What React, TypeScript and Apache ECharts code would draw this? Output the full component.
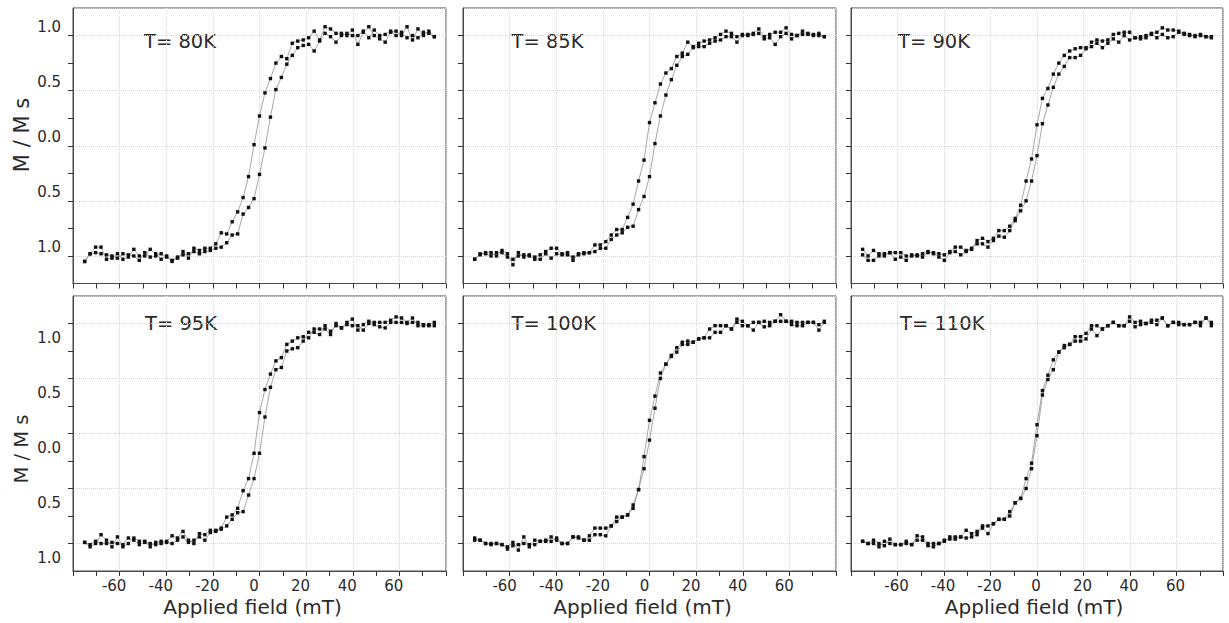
import React, { useEffect, useRef } from 'react';
import * as echarts from 'echarts';

// Applied field values (mT), shared by every sweep
const H = [
  -75, -72.66, -70.31, -67.97, -65.63, -63.28, -60.94, -58.59, -56.25, -53.91,
  -51.56, -49.22, -46.88, -44.53, -42.19, -39.84, -37.5, -35.16, -32.81, -30.47,
  -28.13, -25.78, -23.44, -21.09, -18.75, -16.41, -14.06, -11.72, -9.38, -7.03,
  -4.69, -2.34, 0, 2.34, 4.69, 7.03, 9.38, 11.72, 14.06, 16.41,
  18.75, 21.09, 23.44, 25.78, 28.13, 30.47, 32.81, 35.16, 37.5, 39.84,
  42.19, 44.53, 46.88, 49.22, 51.56, 53.91, 56.25, 58.59, 60.94, 63.28,
  65.63, 67.97, 70.31, 72.66, 75,
];

// M / Ms, descending branch (field swept from + to -) and ascending branch
const M80_DOWN = [
  -1.05, -0.98, -0.92, -0.92, -1.03, -1.02, -0.98, -1.03, -1.01, -0.94,
  -1.0, -1.0, -0.94, -0.98, -1.03, -1.0, -1.05, -1.02, -0.96, -1.02,
  -0.93, -0.95, -0.93, -0.93, -0.89, -0.79, -0.8, -0.69, -0.6, -0.47,
  -0.28, 0.01, 0.27, 0.48, 0.61, 0.75, 0.81, 0.79, 0.93, 0.95,
  0.96, 0.98, 1.04, 0.96, 1.08, 1.06, 1.02, 1.02, 1.0, 1.05,
  0.92, 1.03, 1.08, 1.0, 0.97, 0.94, 1.03, 1.04, 1.0, 1.08,
  0.96, 1.06, 1.0, 1.04, 0.99,
];
const M80_UP = [
  -1.05, -0.98, -0.97, -0.98, -0.99, -1.0, -1.02, -0.98, -0.99, -1.0,
  -1.04, -0.97, -1.01, -1.0, -0.98, -1.01, -1.04, -1.01, -0.99, -0.98,
  -0.96, -0.98, -0.96, -0.95, -0.93, -0.92, -0.88, -0.81, -0.8, -0.62,
  -0.56, -0.48, -0.26, -0.02, 0.26, 0.51, 0.62, 0.74, 0.82, 0.89,
  0.91, 0.92, 0.86, 0.95, 1.02, 0.99, 0.94, 1.0, 1.02, 1.0,
  1.0, 1.04, 0.98, 1.05, 1.0, 1.01, 1.04, 1.0, 1.03, 0.98,
  1.0, 0.98, 1.03, 1.02, 0.99,
];
const M85_DOWN = [
  -1.03, -0.99, -0.97, -0.97, -1.0, -0.95, -0.98, -1.08, -0.97, -1.01,
  -0.99, -1.01, -0.99, -0.96, -0.93, -0.93, -0.98, -0.97, -1.04, -0.98,
  -0.97, -0.97, -0.9, -0.9, -0.87, -0.81, -0.76, -0.76, -0.65, -0.53,
  -0.32, -0.13, 0.21, 0.39, 0.56, 0.66, 0.7, 0.81, 0.84, 0.94,
  0.9, 0.93, 0.95, 0.96, 0.98, 1.01, 1.04, 1.02, 0.99, 1.01,
  1.01, 1.02, 1.06, 0.99, 1.01, 1.03, 1.03, 1.07, 1.01, 1.0,
  1.04, 1.02, 1.01, 1.02, 0.99,
];
const M85_UP = [
  -1.03, -0.98, -0.98, -1.0, -0.97, -0.97, -1.01, -1.03, -1.0, -0.99,
  -1.0, -1.03, -1.03, -0.98, -1.02, -0.98, -0.99, -0.99, -1.01, -0.99,
  -0.98, -0.97, -0.96, -0.93, -0.93, -0.85, -0.81, -0.79, -0.74, -0.73,
  -0.58, -0.46, -0.28, 0.02, 0.27, 0.46, 0.6, 0.73, 0.81, 0.83,
  0.89, 0.9, 0.9, 0.93, 0.95, 0.96, 0.99, 0.99, 0.94, 1.0,
  1.0, 1.01, 1.02, 0.97, 0.98, 0.92, 0.99, 1.02, 0.97, 1.0,
  1.01, 1.01, 1.0, 1.0, 0.99,
];
const M90_DOWN = [
  -0.94, -1.0, -0.95, -0.98, -0.98, -0.97, -0.97, -0.97, -1.0, -1.0,
  -0.99, -1.01, -0.97, -0.97, -0.98, -0.99, -0.96, -0.92, -0.92, -0.96,
  -0.94, -0.86, -0.84, -0.87, -0.84, -0.77, -0.77, -0.73, -0.66, -0.54,
  -0.32, -0.12, 0.19, 0.43, 0.52, 0.65, 0.75, 0.82, 0.86, 0.88,
  0.89, 0.89, 0.94, 0.96, 0.95, 0.96, 1.01, 1.02, 1.03, 1.03,
  0.98, 0.99, 1.0, 1.02, 1.03, 1.07, 1.05, 1.05, 1.04, 1.02,
  1.01, 0.99, 1.01, 0.99, 0.99,
];
const M90_UP = [
  -0.99, -1.04, -1.04, -1.0, -1.0, -0.97, -1.03, -1.01, -1.04, -0.99,
  -1.0, -0.98, -0.96, -0.98, -1.01, -1.04, -0.97, -0.96, -0.99, -0.95,
  -0.93, -0.89, -0.89, -0.92, -0.86, -0.82, -0.83, -0.77, -0.68, -0.59,
  -0.5, -0.32, -0.09, 0.2, 0.37, 0.53, 0.65, 0.72, 0.8, 0.8,
  0.82, 0.88, 0.9, 0.93, 0.89, 0.93, 0.97, 0.94, 1.0, 0.96,
  0.98, 0.97, 0.98, 1.01, 0.98, 1.01, 0.98, 0.99, 1.03, 1.01,
  1.0, 1.0, 1.0, 0.99, 0.98,
];
const M95_DOWN = [
  -0.99, -1.03, -1.0, -0.92, -0.97, -1.03, -0.94, -1.03, -1.0, -0.95,
  -0.98, -0.98, -1.03, -0.99, -0.98, -0.98, -0.93, -0.95, -0.89, -0.97,
  -1.0, -0.91, -0.92, -0.88, -0.88, -0.86, -0.76, -0.74, -0.68, -0.52,
  -0.41, -0.18, 0.19, 0.4, 0.54, 0.66, 0.69, 0.81, 0.84, 0.87,
  0.88, 0.87, 0.95, 0.95, 0.95, 0.9, 1.0, 0.96, 1.01, 1.04,
  0.94, 0.99, 1.02, 1.01, 1.01, 1.01, 1.03, 1.06, 1.05, 1.01,
  1.05, 0.98, 0.98, 0.99, 1.01,
];
const M95_UP = [
  -0.99, -1.01, -0.98, -1.0, -1.0, -0.99, -1.0, -1.01, -0.95, -0.97,
  -1.01, -0.99, -1.0, -1.01, -1.0, -0.99, -1.0, -0.97, -0.94, -0.99,
  -0.97, -0.94, -0.97, -0.9, -0.89, -0.87, -0.84, -0.78, -0.72, -0.71,
  -0.56, -0.41, -0.18, 0.15, 0.42, 0.58, 0.6, 0.75, 0.77, 0.78,
  0.84, 0.92, 0.92, 0.9, 0.98, 0.93, 0.98, 0.96, 0.99, 0.98,
  0.98, 0.94, 1.0, 0.99, 0.97, 0.96, 1.01, 1.01, 1.01, 1.0,
  1.01, 1.01, 0.99, 0.98, 0.98,
];
const M100_DOWN = [
  -0.95, -0.97, -1.0, -1.01, -1.0, -1.01, -1.03, -0.99, -1.06, -0.94,
  -1.03, -0.97, -0.98, -0.98, -0.94, -0.97, -1.0, -1.0, -0.94, -0.95,
  -0.97, -0.93, -0.86, -0.86, -0.86, -0.84, -0.76, -0.76, -0.74, -0.65,
  -0.51, -0.21, 0.12, 0.34, 0.55, 0.63, 0.71, 0.78, 0.83, 0.84,
  0.83, 0.86, 0.87, 0.95, 0.98, 0.98, 0.98, 0.95, 1.04, 1.02,
  0.98, 1.01, 1.01, 1.02, 1.01, 1.02, 1.08, 1.02, 1.02, 1.01,
  1.01, 1.01, 1.01, 0.99, 1.02,
];
const M100_UP = [
  -0.97, -0.97, -1.0, -1.0, -1.0, -1.01, -1.05, -1.02, -1.01, -1.0,
  -1.01, -1.01, -0.98, -0.97, -0.98, -0.95, -1.0, -1.0, -0.94, -0.94,
  -0.97, -0.97, -0.92, -0.92, -0.93, -0.84, -0.8, -0.76, -0.74, -0.68,
  -0.51, -0.32, -0.06, 0.23, 0.5, 0.63, 0.7, 0.74, 0.81, 0.81,
  0.83, 0.86, 0.87, 0.87, 0.92, 0.92, 0.98, 0.95, 1.01, 0.98,
  0.98, 0.94, 1.01, 0.97, 0.98, 1.02, 1.02, 1.02, 0.99, 0.98,
  0.98, 1.01, 1.01, 0.94, 1.01,
];
const M110_DOWN = [
  -0.98, -1.0, -0.97, -1.0, -1.02, -0.96, -1.01, -1.01, -1.0, -1.01,
  -0.93, -0.94, -1.0, -1.0, -1.0, -0.98, -0.94, -0.94, -0.94, -0.88,
  -0.91, -0.89, -0.84, -0.84, -0.82, -0.78, -0.78, -0.71, -0.63, -0.59,
  -0.41, -0.27, 0.08, 0.39, 0.53, 0.67, 0.74, 0.8, 0.81, 0.88,
  0.88, 0.91, 0.98, 0.98, 0.95, 0.98, 1.01, 0.98, 0.98, 1.06,
  1.01, 1.02, 1.0, 1.03, 1.03, 1.05, 0.98, 1.01, 1.01, 0.99,
  0.99, 1.01, 1.01, 1.05, 1.01,
];
const M110_UP = [
  -0.98, -1.0, -1.0, -1.03, -0.98, -1.0, -1.01, -1.01, -0.98, -1.01,
  -0.97, -0.97, -1.02, -1.03, -1.0, -0.97, -0.96, -0.96, -0.94, -0.95,
  -0.94, -0.92, -0.86, -0.91, -0.82, -0.78, -0.78, -0.75, -0.63, -0.59,
  -0.5, -0.32, -0.02, 0.35, 0.49, 0.58, 0.74, 0.78, 0.81, 0.84,
  0.84, 0.86, 0.95, 0.89, 0.95, 0.98, 1.01, 0.98, 0.98, 1.02,
  0.97, 0.99, 1.0, 1.01, 0.99, 1.05, 0.98, 1.01, 0.99, 0.99,
  0.99, 1.01, 0.98, 1.05, 0.98,
];

const TITLES = ['T= 80K', 'T= 85K', 'T= 90K', 'T= 95K', 'T= 100K', 'T= 110K'];
const DOWN = [M80_DOWN, M85_DOWN, M90_DOWN, M95_DOWN, M100_DOWN, M110_DOWN];
const UP = [M80_UP, M85_UP, M90_UP, M95_UP, M100_UP, M110_UP];
const Y_TICKS = [-1, -0.75, -0.5, -0.25, 0, 0.25, 0.5, 0.75, 1];
const Y_LABELS = [-1, -0.5, 0, 0.5, 1];
const X_LABELS = [-60, -40, -20, 0, 20, 40, 60];
const X_NAME = 'Applied field (mT)';
const Y_NAME = 'M / M s';

// layout
const GRID_LEFT = [73, 463, 851];
const GRID_W = [373, 373, 372];
const GRID_TOP = [8, 296];
const GRID_H = [275.5, 275];
const XLAB_SHIFT = [11, 10, 2];
// y tick labels sit a little above (top row) or below (bottom row) their ticks
const YLAB_VALIGN = ['bottom', 'top'];
const YLAB_LINE = [17, 28];
const TITLE_POS = [[144, 41], [511.5, 41.5], [898, 41], [145, 323], [511.5, 323], [900, 323]];
const XNAME_POS = [[252.5, 606.5], [642.5, 606.5], [1034, 606.5]];
const YNAME_POS = [[21.5, 135, 21], [21, 449, 19.5]];

const FONT = 'DejaVu Sans';
const FRAME = '#4a4a4a';
const TICK = '#333';
const TEXT = '#2a2a2a';
const GRIDC = '#d6d6d6';

export default function App() {
  const ref = useRef<HTMLDivElement>(null);
  useEffect(() => {
    const chart = echarts.init(ref.current!, null, { renderer: 'svg' });
    const grid: any[] = [];
    const xAxis: any[] = [];
    const yAxis: any[] = [];
    const series: any[] = [];
    const graphic: any[] = [];

    TITLES.forEach((title, k) => {
      const col = k % 3;
      const row = Math.floor(k / 3);
      grid.push({
        left: GRID_LEFT[col], top: GRID_TOP[row], width: GRID_W[col], height: GRID_H[row],
        show: true, borderColor: FRAME, borderWidth: 1, backgroundColor: 'transparent',
      });
      xAxis.push({
        type: 'value', gridIndex: k, min: -80, max: 80, interval: 20,
        axisLine: { show: true, onZero: false, lineStyle: { color: FRAME, width: 1 } },
        axisTick: { show: true, inside: false, length: 5, lineStyle: { color: TICK, width: 1 } },
        minorTick: { show: true, splitNumber: 2, length: 5, lineStyle: { color: TICK, width: 1 } },
        splitLine: { show: true, lineStyle: { color: GRIDC, type: 'dotted', width: 1 } },
        minorSplitLine: { show: false },
        axisLabel: {
          show: row === 1,
          formatter: (v: number) => (X_LABELS.indexOf(Math.round(v)) >= 0 ? String(Math.round(v)) : ''),
          fontFamily: FONT, fontSize: 15, color: TEXT, margin: 7,
          padding: [0, XLAB_SHIFT[col], 0, 0],
        },
      });
      yAxis.push({
        type: 'value', gridIndex: k, min: -1.25, max: 1.25, interval: 0.25, position: 'left',
        axisLine: { show: true, onZero: false, lineStyle: { color: FRAME, width: 1 } },
        axisTick: { show: true, inside: false, length: 5, customValues: Y_TICKS, lineStyle: { color: TICK, width: 1 } },
        splitLine: { show: false },
        axisLabel: {
          show: col === 0,
          customValues: Y_LABELS,
          showMinLabel: true,
          showMaxLabel: true,
          formatter: (v: number) => {
            const r = Math.round(v * 100) / 100;
            return Y_LABELS.indexOf(r) >= 0 ? Math.abs(r).toFixed(1) : '';
          },
          fontFamily: FONT, fontSize: 15, color: TEXT, margin: 12,
          lineHeight: YLAB_LINE[row],
          verticalAlign: YLAB_VALIGN[row],
        },
      });
      yAxis.push({
        type: 'value', gridIndex: k, min: -1.25, max: 1.25, position: 'left',
        axisLine: { show: false }, axisTick: { show: false }, axisLabel: { show: false },
        splitLine: { show: true, lineStyle: { color: GRIDC, type: 'dotted', width: 1 } },
      });
      [DOWN[k], UP[k]].forEach((vals) => {
        series.push({
          type: 'line', xAxisIndex: k, yAxisIndex: 2 * k,
          data: H.map((h, i) => [h, vals[i]]),
          symbol: 'rect', symbolSize: 3.4, showSymbol: true,
          lineStyle: { color: '#909090', width: 0.8 },
          itemStyle: { color: '#111' },
          z: 3,
        });
      });
      graphic.push({
        type: 'text', x: TITLE_POS[k][0], y: TITLE_POS[k][1],
        style: { text: title, fontFamily: FONT, fontSize: 19.5, fill: TEXT, align: 'left', verticalAlign: 'middle' },
      });
    });

    XNAME_POS.forEach(([x, y]) => {
      graphic.push({
        type: 'text', x, y,
        style: { text: X_NAME, fontFamily: FONT, fontSize: 20, fill: TEXT, align: 'center', verticalAlign: 'middle' },
      });
    });
    YNAME_POS.forEach(([x, y, fs]) => {
      graphic.push({
        type: 'text', x, y, rotation: Math.PI / 2,
        style: { text: Y_NAME, fontFamily: FONT, fontSize: fs, fill: TEXT, align: 'center', verticalAlign: 'middle' },
      });
    });

    chart.setOption({
      animation: false,
      backgroundColor: '#ffffff',
      grid, xAxis, yAxis, series, graphic,
    });
    return () => chart.dispose();
  }, []);
  return <div ref={ref} style={{ position: 'absolute', left: 0, top: 0, width: 1229, height: 623 }} />;
}
